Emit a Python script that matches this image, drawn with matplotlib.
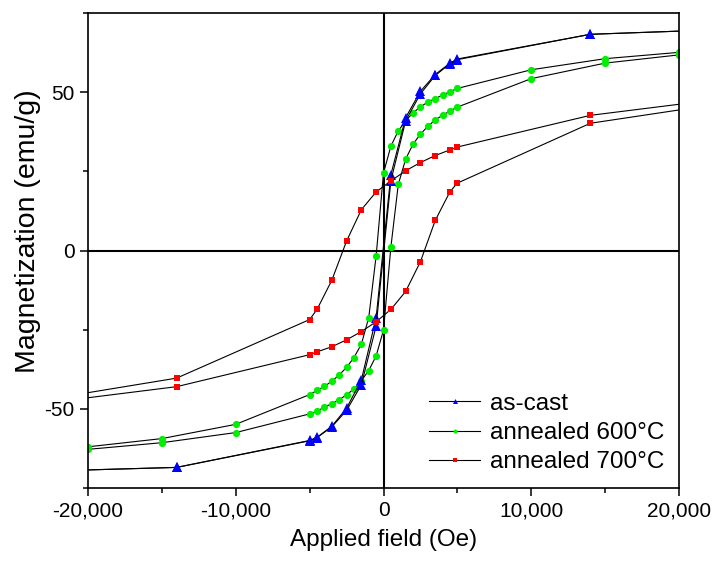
import numpy as np
import matplotlib
matplotlib.use('Agg')
import matplotlib.pyplot as plt
from matplotlib.ticker import MultipleLocator, FuncFormatter

plt.rcParams['font.family'] = ['Liberation Sans', 'DejaVu Sans']

# as-cast and 700C: same field steps
field_a = [20000, 14000, 5000, 4500, 3500, 2500, 1500, 500,
           -500, -1500, -2500, -3500, -4500, -5000, -14000, -20000]
cast_down = [69.3, 68.3, 60.5, 59.2, 55.6, 50.3, 42.0, 24.0,
             -21.2, -40.9, -49.8, -55.5, -59.0, -60.0, -68.5, -69.3]
cast_up = [69.3, 68.3, 60.3, 59.0, 55.3, 49.5, 41.0, 22.1,
           -23.9, -42.4, -50.5, -55.7, -59.1, -60.1, -68.5, -69.3]
a700_down = [46.2, 42.7, 32.7, 31.8, 30.0, 27.8, 25.2, 22.0,
             18.5, 12.9, 3.0, -9.4, -18.6, -21.8, -40.3, -44.9]
a700_up = [44.4, 40.2, 21.3, 18.6, 9.5, -3.5, -12.9, -18.6,
           -22.5, -25.6, -28.2, -30.4, -32.0, -32.9, -43.0, -46.5]

# annealed 600C: finer steps
field_b = [20000, 15000, 10000, 5000, 4500, 4000, 3500, 3000, 2500, 2000, 1500, 1000, 500, 0,
           -500, -1000, -1500, -2000, -2500, -3000, -3500, -4000, -4500, -5000,
           -10000, -15000, -20000]
a600_down = [62.6, 60.6, 57.1, 51.2, 50.2, 49.1, 48.0, 46.9, 45.4, 43.5, 41.0, 37.8, 33.0, 24.5,
             -1.7, -21.2, -29.6, -33.8, -36.9, -39.3, -41.3, -42.9, -44.2, -45.5,
             -54.9, -59.4, -62.0]
a600_up = [61.8, 59.2, 54.3, 45.3, 44.1, 42.7, 41.3, 39.2, 36.8, 33.6, 28.9, 20.9, 1.2, -25.1,
           -33.3, -37.9, -41.1, -43.7, -45.6, -47.1, -48.4, -49.4, -50.8, -51.6,
           -57.5, -60.7, -62.8]

fig = plt.figure(figsize=(7.12, 5.64), dpi=100)
ax = fig.add_axes([0.1236, 0.1348, 0.8301, 0.8420])

ax.axhline(0, color='black', lw=1.5, zorder=1.5)
ax.axvline(0, color='black', lw=1.5, zorder=1.5)

line_kw = dict(color='black', lw=0.8, markeredgewidth=0)
inner = slice(1, -1)

h1, = ax.plot(field_a, cast_down, marker='^', ms=6.5, mfc='#0000ff', markevery=inner,
              zorder=3, label='as-cast', **line_kw)
ax.plot(field_a, cast_up, marker='^', ms=6.5, mfc='#0000ff', markevery=inner,
        zorder=3, **line_kw)
h2, = ax.plot(field_b, a600_down, marker='o', ms=5.2, mfc='#00ee00',
              zorder=2, label='annealed 600°C', **line_kw)
ax.plot(field_b, a600_up, marker='o', ms=5.2, mfc='#00ee00', zorder=2, **line_kw)
h3, = ax.plot(field_a, a700_down, marker='s', ms=4.8, mfc='#ff0000', markevery=inner,
              zorder=4, label='annealed 700°C', **line_kw)
ax.plot(field_a, a700_up, marker='s', ms=4.8, mfc='#ff0000', markevery=inner,
        zorder=4, **line_kw)

ax.set_xlim(-20000, 20000)
ax.set_ylim(-75, 75)
ax.xaxis.set_major_locator(MultipleLocator(10000))
ax.xaxis.set_minor_locator(MultipleLocator(5000))
ax.yaxis.set_major_locator(MultipleLocator(50))
ax.yaxis.set_minor_locator(MultipleLocator(25))
ax.xaxis.set_major_formatter(FuncFormatter(lambda v, p: f"{int(v):,}"))
ax.yaxis.set_major_formatter(FuncFormatter(lambda v, p: f"{int(v)}"))

ax.tick_params(which='major', direction='out', length=6, width=1.1, labelsize=15)
ax.tick_params(which='minor', direction='out', length=3.5, width=1.1)
for s in ax.spines.values():
    s.set_linewidth(1.2)

ax.set_xlabel('Applied field (Oe)', fontsize=17.5, labelpad=6)
ax.set_ylabel('Magnetization (emu/g)', fontsize=20.5)
ax.yaxis.set_label_coords(-0.08, 0.54)

leg = ax.legend(handles=[h1, h2, h3], loc='lower right', bbox_to_anchor=(1, 0),
                frameon=False, fontsize=17.5, markerscale=0.55, handlelength=2.1,
                handletextpad=0.4, labelspacing=0.3, borderaxespad=0.2)

fig.savefig('out.png', dpi=100)
